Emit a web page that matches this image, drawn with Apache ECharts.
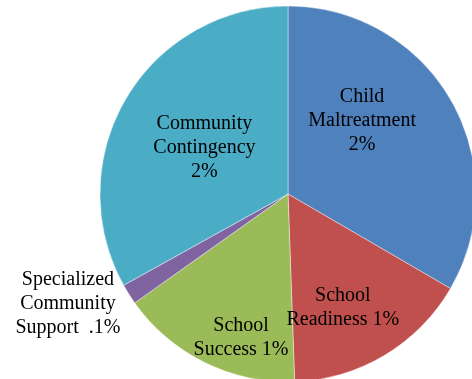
<!DOCTYPE html>
<html>
<head>
<meta charset="utf-8">
<script src="https://cdn.jsdelivr.net/npm/echarts@6/dist/echarts.min.js"></script>
<style>html,body{margin:0;padding:0;background:#fff}#c{width:472px;height:379px}</style>
</head>
<body>
<div id="c"></div>
<script>
var categories = ["Child Maltreatment", "School Readiness", "School Success", "Specialized Community Support", "Community Contingency"];
var values = [2.08, 1.00, 0.98, 0.11, 2.06];
var labelTexts = ["Child\nMaltreatment\n2%", "School\nReadiness 1%", "School\nSuccess 1%", "Specialized\nCommunity\nSupport  .1%", "Community\nContingency\n2%"];
var colors = ["#4F81BD", "#C0504D", "#9BBB59", "#8064A2", "#4BACC6"];
var labelShift = [[-10, -25], [5, 31], [-4, 57], [-138, 58], [0, 3]];

var chart = echarts.init(document.getElementById('c'), null, {renderer: 'canvas'});
chart.setOption({
  animation: false,
  series: [{
    type: 'pie',
    center: [288, 194],
    radius: 188,
    startAngle: 90,
    clockwise: true,
    avoidLabelOverlap: false,
    label: {
      show: true,
      position: 'inside',
      color: '#000',
      fontFamily: '"Liberation Serif", "Times New Roman", serif',
      fontSize: 20,
      lineHeight: 24,
      formatter: function (p) { return labelTexts[p.dataIndex]; }
    },
    labelLine: {show: false},
    labelLayout: function (p) {
      return {dx: labelShift[p.dataIndex][0], dy: labelShift[p.dataIndex][1]};
    },
    itemStyle: {borderColor: 'rgba(255,255,255,0.7)', borderWidth: 0.6},
    emphasis: {disabled: true},
    data: categories.map(function (c, i) {
      return {name: c, value: values[i], itemStyle: {color: colors[i]}};
    })
  }]
});
</script>
</body>
</html>
